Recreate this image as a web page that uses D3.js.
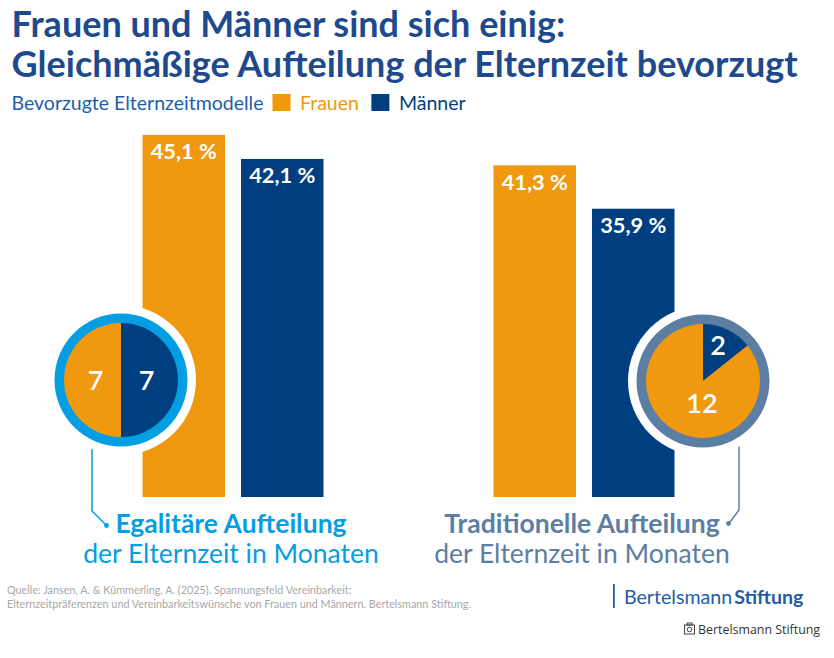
<!DOCTYPE html>
<html>
<head>
<meta charset="utf-8">
<script src="https://cdn.jsdelivr.net/npm/d3@7"></script>
<style>
  html, body { margin: 0; padding: 0; background: #fff; }
  svg { display: block; font-family: Lato, "Open Sans", sans-serif; }
</style>
</head>
<body>
<svg id="chart" width="834" height="658"></svg>
<script>
// ---------- data ----------
const titleLines = ["Frauen und Männer sind sich einig:", "Gleichmäßige Aufteilung der Elternzeit bevorzugt"];
const legendTitle = "Bevorzugte Elternzeitmodelle";
const seriesNames = ["Frauen", "Männer"];
const groupNames = ["Egalitäre Aufteilung", "Traditionelle Aufteilung"];
const groupSubtitle = "der Elternzeit in Monaten";
const frauenValues = [45.1, 41.3];      // % preferring the model
const maennerValues = [42.1, 35.9];
const monthsMaenner = [7, 2];           // months of parental leave
const monthsFrauen = [7, 12];
const sourceLines = [
  "Quelle: Jansen, A. & Kümmerling, A. (2025). Spannungsfeld Vereinbarkeit:",
  "Elternzeitpräferenzen und Vereinbarkeitswünsche von Frauen und Männern. Bertelsmann Stiftung."
];
const logoParts = ["Bertelsmann", "Stiftung"];
const creditText = "Bertelsmann Stiftung";

// ---------- styles ----------
const colFrauen = "#F0980E";
const colMaenner = "#003F7F";
const colTitle = "#1E4A8D";
const groupColors = ["#069EE2", "#5C7EA3"];

const svg = d3.select("#chart");

// ---------- title ----------
svg.selectAll("text.title").data(titleLines).join("text")
  .attr("class", "title")
  .attr("x", 11.5).attr("y", (d, i) => 36.5 + i * 40)
  .attr("fill", colTitle).attr("font-size", 36).attr("font-weight", 700)
  .text(d => d);

// ---------- legend ----------
const lg = svg.append("g").attr("transform", "translate(0,109.5)");
lg.append("text").attr("x", 11.5).attr("fill", "#1F5DA8").attr("font-size", 19.5).text(legendTitle);
let lx = 272.5;
const seriesCols = [colFrauen, colMaenner];
seriesNames.forEach((s, i) => {
  lg.append("rect").attr("x", lx).attr("y", -15.5).attr("width", 18).attr("height", 17).attr("fill", seriesCols[i]);
  const t = lg.append("text").attr("x", lx + 27.5).attr("fill", seriesCols[i]).attr("font-size", 19.5).text(s);
  lx += 27.5 + t.node().getComputedTextLength() + 12.5;
});

// ---------- scales ----------
const y = d3.scaleLinear().domain([0, 50]).range([497, 497 - 401.5]);
const xGroup = d3.scalePoint().domain(groupNames).range([233, 584]);
const xSeries = d3.scaleBand().domain(seriesNames).range([-90.5, 90.5]).paddingInner(0.1624);

const valuesBySeries = { "Frauen": frauenValues, "Männer": maennerValues };
const barData = [];
groupNames.forEach((g, gi) => seriesNames.forEach(s => barData.push({ g, s, v: valuesBySeries[s][gi] })));

const fmt = v => d3.format(".1f")(v).replace(".", ",") + " %";

const bars = svg.append("g");
bars.selectAll("rect").data(barData).join("rect")
  .attr("x", d => xGroup(d.g) + xSeries(d.s))
  .attr("y", d => y(d.v))
  .attr("width", xSeries.bandwidth())
  .attr("height", d => y(0) - y(d.v))
  .attr("fill", d => d.s === "Frauen" ? colFrauen : colMaenner);
bars.selectAll("text").data(barData).join("text")
  .attr("x", d => xGroup(d.g) + xSeries(d.s) + xSeries.bandwidth() / 2)
  .attr("y", d => y(d.v) + 24.5)
  .attr("text-anchor", "middle").attr("fill", "#fff")
  .attr("font-size", 21.8).attr("font-weight", 700)
  .text(d => fmt(d.v));

// ---------- circles (pies) ----------
const circleCenters = [[121, 380], [703, 381]];      // layout
const connectors = [
  [[92, 440], [92, 511], [105, 524]],
  [[739, 436], [739, 510], [730, 522]]
];
const labelOffsets = [                                 // layout: [Männer, Frauen]
  [[25.5, 9.5], [-25.5, 9.5]],
  [[15, -26.5], [-1, 31.5]]
];
const pie = d3.pie().sort(null).value(d => d.v);
const arc = d3.arc().innerRadius(0).outerRadius(57);

groupNames.forEach((g, gi) => {
  const [cx, cy] = circleCenters[gi];
  // connector line + dot
  svg.append("path")
    .attr("d", d3.line()(connectors[gi]))
    .attr("fill", "none").attr("stroke", groupColors[gi]).attr("stroke-width", 1.5);
  const last = connectors[gi][2];
  svg.append("circle").attr("cx", last[0] + (gi === 0 ? 1.5 : -1.5)).attr("cy", last[1] + 1.5)
    .attr("r", 2.4).attr("fill", groupColors[gi]);

  const cg = svg.append("g").attr("transform", `translate(${cx},${cy})`);
  cg.append("circle").attr("r", 75).attr("fill", "#fff");
  cg.append("circle").attr("r", 66.5).attr("fill", groupColors[gi]);
  const slices = pie([{ s: "Männer", v: monthsMaenner[gi] }, { s: "Frauen", v: monthsFrauen[gi] }]);
  cg.selectAll("path.slice").data(slices).join("path")
    .attr("class", "slice")
    .attr("d", arc)
    .attr("fill", d => d.data.s === "Frauen" ? colFrauen : colMaenner);
  cg.selectAll("text").data(slices).join("text")
    .attr("x", (d, i) => labelOffsets[gi][i][0])
    .attr("y", (d, i) => labelOffsets[gi][i][1])
    .attr("text-anchor", "middle").attr("fill", "#fff")
    .attr("font-size", 27).attr("font-weight", 600)
    .text(d => d.data.v);

  // group label
  const tx = xGroup(g) - 2;
  svg.append("text").attr("x", tx).attr("y", 533).attr("text-anchor", "middle")
    .attr("fill", groupColors[gi]).attr("font-size", 26.5).attr("font-weight", 700).text(g);
  svg.append("text").attr("x", tx).attr("y", 563).attr("text-anchor", "middle")
    .attr("fill", groupColors[gi]).attr("font-size", 26.5).text(groupSubtitle);
});

// ---------- footer ----------
svg.selectAll("text.src").data(sourceLines).join("text")
  .attr("class", "src")
  .attr("x", 7).attr("y", (d, i) => 594 + i * 13.5)
  .attr("fill", "#A8A8A8").attr("font-size", 10.8)
  .text(d => d);

svg.append("rect").attr("x", 613).attr("y", 584).attr("width", 1.8).attr("height", 24).attr("fill", "#1F5DA8");
const logo = svg.append("text").attr("x", 624).attr("y", 604).attr("fill", "#1F5DA8").attr("font-size", 19.6);
logo.append("tspan").text(logoParts[0]);
logo.append("tspan").attr("font-weight", 700).attr("dx", 2).text(logoParts[1]);

// credit with small camera icon
const cam = svg.append("g").attr("transform", "translate(684,623)").attr("fill", "none").attr("stroke", "#444").attr("stroke-width", 1);
cam.append("rect").attr("x", 0.5).attr("y", 2).attr("width", 10).attr("height", 9);
cam.append("rect").attr("x", 3).attr("y", 0).attr("width", 5).attr("height", 2);
cam.append("circle").attr("cx", 5.5).attr("cy", 6.5).attr("r", 2.3);
svg.append("text").attr("x", 698).attr("y", 634).attr("fill", "#333")
  .attr("font-family", "'Open Sans', sans-serif").attr("font-size", 12.4).text(creditText);
</script>
</body>
</html>
